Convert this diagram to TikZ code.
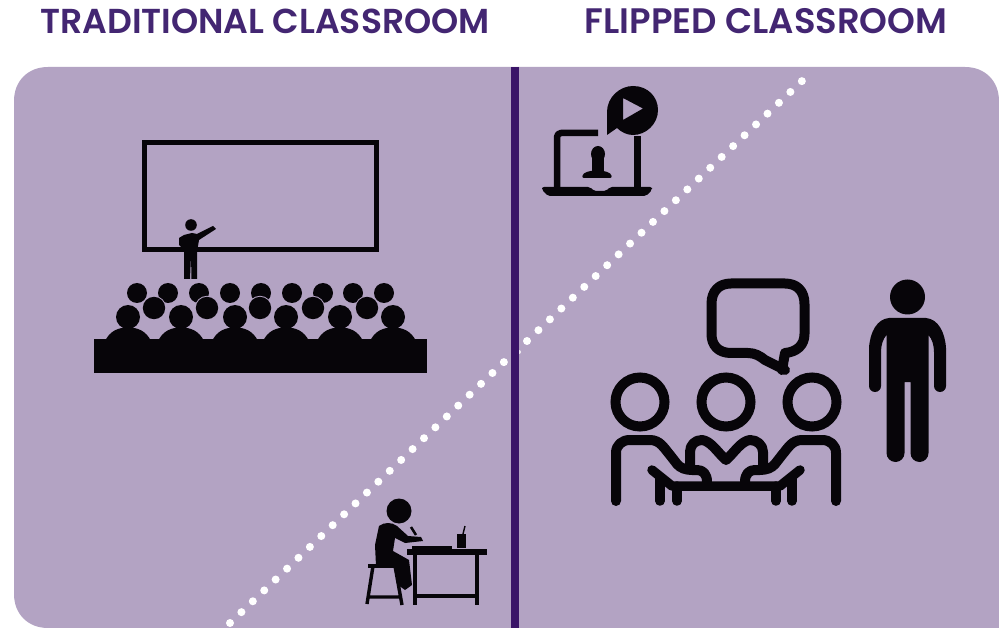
\documentclass[tikz,border=0pt]{standalone}
\usepackage{fontspec}
\setmainfont{Poppins}[BoldFont={Poppins SemiBold}]
\definecolor{panel}{HTML}{B3A3C3}
\definecolor{deep}{HTML}{3A1468}
\definecolor{titlec}{HTML}{432672}
\definecolor{ink}{HTML}{070509}
\tikzset{
  title/.style={text=titlec,font=\fontsize{34.6}{35}\selectfont\bfseries,inner sep=0pt,anchor=base},
  titleb/.style={text=titlec,font=\fontsize{35.4}{36}\selectfont\bfseries,inner sep=0pt,anchor=base},
  outl/.style={draw=ink,line cap=round,line join=round,fill=none},
  dots/.style={draw=white,line cap=round,line width=8pt,dash pattern=on 0pt off 15.76pt},
}
\begin{document}
\begin{tikzpicture}[x=1pt,y=-1pt]
\useasboundingbox (0,0) rectangle (999,628);
\fill[white] (0,0) rectangle (999,628);
\node[title] (t1) at (265,33.5) {TRADITIONAL CLASSROOM};
\node[titleb] (t2) at (766,33.5) {FLIPPED CLASSROOM};
\fill[panel] (14,101) .. controls (14,81) and (28,67) .. (48,67) -- (965,67) .. controls (985,67) and (999,81) .. (999,101) -- (999,628) -- (48,628) .. controls (28,628) and (14,614) .. (14,594) -- cycle;
% dotted diagonal
\coordinate (da) at (230,623);
\coordinate (db) at (504.2,361.8);
\coordinate (dc) at (527,341);
\coordinate (dd) at (802.2,80.8);
\coordinate (de) at (519,352);
\draw[dots] (da) -- (db);
\draw[dots] (dc) -- (dd);
\fill[white!80!panel] (de) circle (2);
% divider
\coordinate (va) at (515,67);
\coordinate (vb) at (515,628);
\draw[deep,line width=8pt] (va) -- (vb);
% board
\draw[ink,line width=5pt] (144,143) rectangle (376,250);
% teacher
\fill[ink] (191,225) circle (5.8);
\fill[ink] (184,235) -- (192,233) -- (197,234) -- (213,226) -- (216,229) -- (199,240) -- (197,252) -- (197,279) -- (191.5,279) -- (191,255) -- (190,279) -- (184,279) -- (184,250) -- (179,245) -- (179,238) -- cycle;
% audience
\foreach \x in {137,168,199,230,261,292,323,353,384} \fill[ink] (\x,293) circle (10);
\foreach \x in {154,207,260,313,367} {\fill[panel] (\x,308) circle (12.2); \fill[ink] (\x,308) circle (11.2);}
\foreach \x in {128,181,235,286,340,393} {
  \fill[ink] (\x,317) circle (12);
  \fill[ink] (\x-23,341) .. controls (\x-18,331) and (\x-10,327.5) .. (\x,327.5) .. controls (\x+10,327.5) and (\x+18,331) .. (\x+23,341) -- cycle;
}
\fill[ink] (94,339) rectangle (427,373);
% student
\fill[ink] (399,511) circle (12.5);
\fill[ink] (379,526) .. controls (384,522) and (392,522) .. (397,526) -- (408,536) -- (421,537) -- (423,541) -- (405,543) -- (395,538) -- (393,551) -- (409,560) -- (412,585) -- (405,590) -- (398,585) -- (394,568) -- (376,566) -- (375,545) -- cycle;
\draw[ink,line width=2.5pt] (411,527) -- (416,535);
\fill[ink] (407,549) rectangle (487,555);
\fill[ink] (412,546) rectangle (452,549);
\draw[ink,line width=3.4pt] (415,553) -- (415,605) (477,553) -- (477,605) (415,596) -- (477,596);
\fill[ink] (368,564) rectangle (397,568);
\draw[ink,line width=3.4pt] (373,566) -- (367,604) (395,566) -- (402,605) (369,597) -- (400,597);
\fill[ink] (457,534) rectangle (466,548);
\draw[ink,line width=1.4pt] (463,534) -- (465,526);
% laptop
\draw[outl,line width=6.5pt,line cap=butt] (598,133) -- (561,133) arc[start angle=-90,end angle=-180,radius=4] -- (557,190);
\draw[outl,line width=6.5pt,line cap=butt] (637.5,136) -- (637.5,190);
\fill[ink,rounded corners=2pt] (542,187) -- (590,187) -- (594,191) -- (606,191) -- (610,187) -- (652,187) -- (652,190) -- (646,196) -- (548,196) -- (542,190) -- cycle;
\fill[ink] (598,154) ellipse (7 and 8);
\fill[ink] (592,158) rectangle (604,172);
\fill[ink,rounded corners=2pt] (582,178) .. controls (583,172) and (590,171) .. (597,170) .. controls (604,171) and (611,172) .. (612,178) -- cycle;
\fill[ink,even odd rule] (607,135) -- (607,112) .. controls (607,97) and (620,86) .. (633,86) .. controls (648,86) and (658,97) .. (658,110) .. controls (658,124) and (646,135) .. (633,135) .. controls (627,135) and (621,132) .. (617,128) -- cycle (623,98) -- (623,120) -- (643,108.5) -- cycle;
% speech bubble
\coordinate (bp) at (785,370);
\draw[outl,line width=10pt] (bp) -- (765,360) .. controls (760,356) and (755,353) .. (748,353) -- (731,353) .. controls (718,353) and (711.5,345) .. (711.5,334) -- (711.5,304) .. controls (711.5,291) and (719,283.5) .. (731,283.5) -- (785,283.5) .. controls (797,283.5) and (804.5,291) .. (804.5,304) -- (804.5,334) .. controls (804.5,345) and (797,352) .. (785,353) -- (782,370);
% three people
\draw[draw=ink,line width=10pt] (640,402) circle (24.5);
\draw[draw=ink,line width=10pt] (726,402) circle (24.5);
\draw[draw=ink,line width=10pt] (812,402) circle (24.5);
\draw[outl,line width=10pt] (616,501) -- (616,453) .. controls (616,445) and (622,440) .. (630,440) -- (650,440) .. controls (660,440) and (664,448) .. (670,455) -- (677,464) .. controls (680,468) and (686,470) .. (692,470) -- (697,470) .. controls (703,470) and (707,474) .. (707,482);
\draw[outl,line width=10pt] (836,501) -- (836,453) .. controls (836,445) and (830,440) .. (822,440) -- (802,440) .. controls (792,440) and (788,448) .. (782,455) -- (775,464) .. controls (772,468) and (766,470) .. (760,470) -- (755,470) .. controls (749,470) and (745,474) .. (745,482);
\draw[outl,line width=10pt] (690,467) -- (690,452) .. controls (690,445) and (695,440) .. (702,440) .. controls (711,441) and (718,453) .. (726,460) .. controls (734,453) and (741,441) .. (750,440) .. controls (757,440) and (763,445) .. (763,452) -- (763,467);
\draw[outl,line width=9.5pt] (652,470) -- (672,486) -- (780,486) -- (800,470);
\draw[outl,line width=9.5pt] (660,478) -- (660,501) (677,486) -- (677,501) (776,486) -- (776,501) (792,478) -- (792,501);
% standing person
\fill[ink] (907.5,297) circle (17.5);
\fill[ink] (907.5,318) -- (926,318) .. controls (938,319) and (945,332) .. (946,348) -- (946,386) arc[start angle=0,end angle=180,radius=6] -- (934,352) .. controls (934,345) and (932,339) .. (928.5,335) -- (928.5,453) arc[start angle=0,end angle=180,radius=9] -- (910.5,382) -- (904.5,382) -- (904.5,453) arc[start angle=0,end angle=180,radius=9] -- (886.5,335) .. controls (883,339) and (881,345) .. (881,352) -- (881,386) arc[start angle=0,end angle=180,radius=6] -- (869,348) .. controls (870,332) and (877,319) .. (889,318) -- cycle;
\end{tikzpicture}
\end{document}
